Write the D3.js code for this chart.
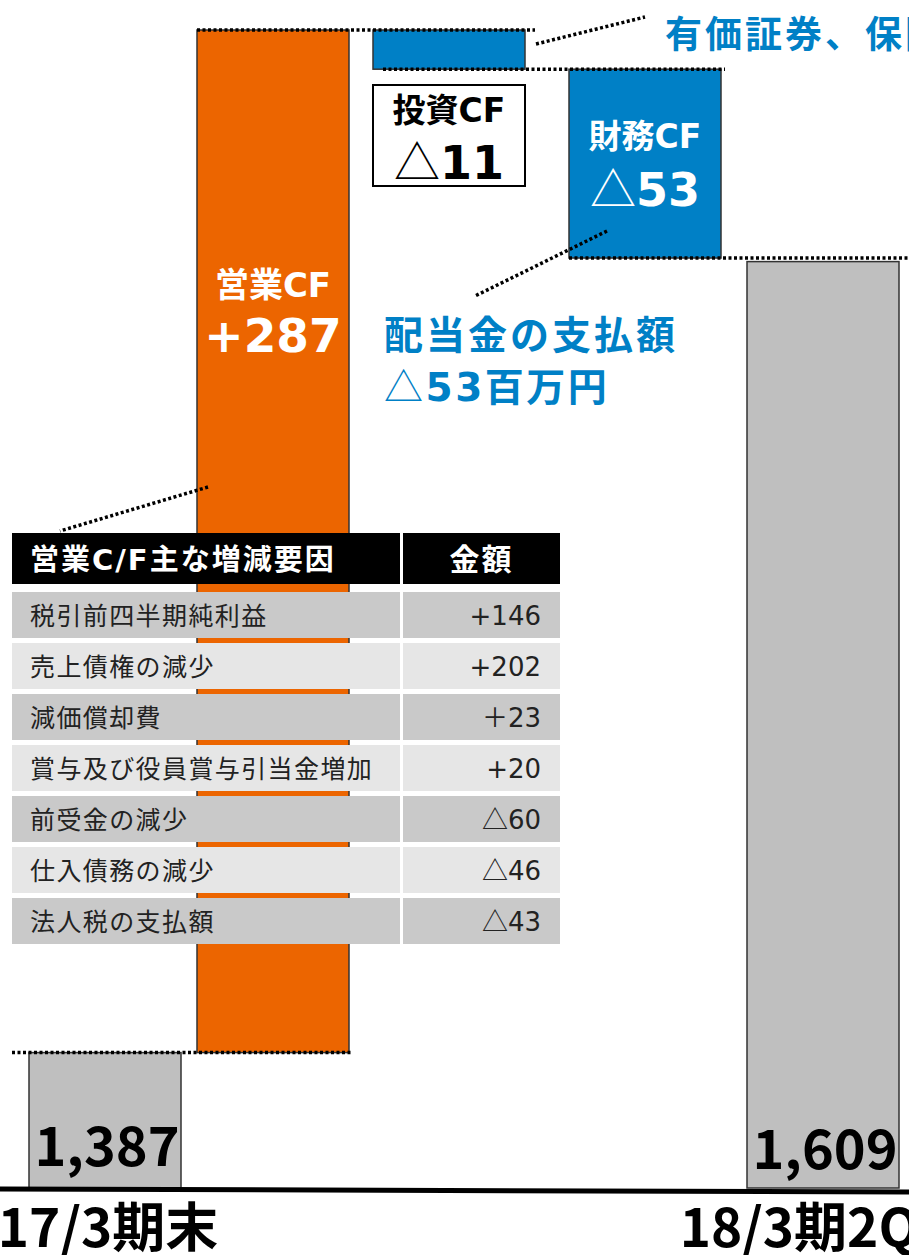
<!DOCTYPE html>
<html>
<head>
<meta charset="utf-8">
<script src="https://cdn.jsdelivr.net/npm/d3@7"></script>
<style>
body { margin: 0; background: #fff; }
text { font-family: "Noto Sans CJK JP", "Noto Sans", sans-serif; }
.lat { font-family: "DejaVu Sans", "Noto Sans CJK JP", sans-serif; }
</style>
</head>
<body>
<script>
var width = 909;
var height = 1255;

// waterfall data (百万円)
var categories = ["17/3期末", "営業CF", "投資CF", "財務CF", "18/3期2Q末"];
var startValue = 1387;
var endValue = 1609;
var flowValues = [287, -11, -53];
var flowLabels = ["+287", "△11", "△53"];
var axisBreak = 1349; // the value axis does not start at zero

// table data
var factorLabels = ["税引前四半期純利益", "売上債権の減少", "減価償却費", "賞与及び役員賞与引当金増加",
    "前受金の減少", "仕入債務の減少", "法人税の支払額"];
var factorValues = ["+146", "+202", "＋23", "+20", "△60", "△46", "△43"];

var orange = "#ec6500",
    blue = "#0080c6",
    gray = "#bfbfbf";
var cjk = "Noto Sans CJK JP";

var svg = d3.select("body").append("svg")
    .attr("width", width)
    .attr("height", height);

// bar slots are not evenly spaced in the original slide
var x = d3.scaleOrdinal().domain(categories).range([29, 197, 373, 569, 747]);
var bw = 152;
var y = d3.scaleLinear().domain([axisBreak, 1674]).range([1188, 30]);

// build bars
var bars = [];
bars.push({ cat: categories[0], lo: axisBreak, hi: startValue, fill: gray });
var run = startValue;
for (var i = 0; i < flowValues.length; i++) {
    var next = run + flowValues[i];
    bars.push({ cat: categories[i + 1], lo: Math.min(run, next), hi: Math.max(run, next),
        fill: i == 0 ? orange : blue, from: run, to: next });
    run = next;
}
bars.push({ cat: categories[4], lo: axisBreak, hi: endValue, fill: gray });

svg.selectAll(".bar")
    .data(bars)
    .enter()
    .append("rect")
    .attr("class", "bar")
    .attr("x", function (d) { return x(d.cat); })
    .attr("y", function (d) { return y(d.hi); })
    .attr("width", bw)
    .attr("height", function (d) { return y(d.lo) - y(d.hi); })
    .attr("fill", function (d) { return d.fill; })
    .attr("stroke", "#333")
    .attr("stroke-width", 1.5);

// dotted connectors
var connectors = [
    { v: startValue, x1: x(categories[0]) - 17, x2: x(categories[1]) + bw + 2 },
    { v: bars[1].to, x1: x(categories[1]), x2: x(categories[2]) + bw + 10 },
    { v: bars[2].to, x1: x(categories[2]) + 10, x2: x(categories[3]) + bw + 4 },
    { v: bars[3].to, x1: x(categories[3]), x2: width }
];
svg.selectAll(".conn")
    .data(connectors)
    .enter()
    .append("line")
    .attr("x1", function (d) { return d.x1; })
    .attr("x2", function (d) { return d.x2; })
    .attr("y1", function (d) { return y(d.v); })
    .attr("y2", function (d) { return y(d.v); })
    .attr("stroke", "#000")
    .attr("stroke-width", 3.5)
    .attr("stroke-dasharray", "3,2.5");

// baseline
svg.append("line")
    .attr("x1", 0).attr("x2", width)
    .attr("y1", y(axisBreak) + 1).attr("y2", y(axisBreak) + 4)
    .attr("stroke", "#000")
    .attr("stroke-width", 5);

// category labels
svg.selectAll(".cat")
    .data([categories[0], categories[4]])
    .enter()
    .append("text")
    .attr("x", function (d) { return x(d) + bw / 2 + 3; })
    .attr("y", 1247)
    .attr("text-anchor", "middle")
    .attr("font-size", 53)
    .attr("font-weight", 700)
    .text(function (d) { return d; });

// total values
svg.selectAll(".tot")
    .data([{ cat: categories[0], v: startValue }, { cat: categories[4], v: endValue }])
    .enter()
    .append("text")
    .attr("x", function (d) { return x(d.cat) + bw / 2 + 2; })
    .attr("y", function (d, i) { return y(axisBreak) - 22 + i * 3; })
    .attr("text-anchor", "middle")
    .attr("font-size", 54)
    .attr("font-weight", 700)
    .text(function (d) { return d3.format(",")(d.v); });

function tri(sel, label) {
    // thin triangle then the number
    if (label.charAt(0) == "△") {
        sel.append("tspan").attr("font-weight", 400).style("font-family", cjk).text("△");
        sel.append("tspan").text(label.slice(1));
    } else {
        sel.text(label);
    }
}

// operating CF label
var cxO = x(categories[1]) + bw / 2;
svg.append("text").attr("class", "lat").attr("x", cxO).attr("y", 297).attr("text-anchor", "middle")
    .attr("font-size", 34).attr("font-weight", 700).attr("fill", "#fff").text("営業CF");
svg.append("text").attr("class", "lat").attr("x", cxO).attr("y", 352).attr("text-anchor", "middle")
    .attr("font-size", 47).attr("font-weight", 700).attr("fill", "#fff").text(flowLabels[0]);

// investing CF label box
var xI = x(categories[2]);
svg.append("rect").attr("x", xI).attr("y", 85).attr("width", bw).attr("height", 101)
    .attr("fill", "#fff").attr("stroke", "#000").attr("stroke-width", 2);
svg.append("text").attr("class", "lat").attr("x", xI + bw / 2).attr("y", 122).attr("text-anchor", "middle")
    .attr("font-size", 33).attr("font-weight", 700).text("投資CF");
svg.append("text").attr("class", "lat").attr("x", xI + bw / 2).attr("y", 179).attr("text-anchor", "middle")
    .attr("font-size", 46).attr("font-weight", 700).call(tri, flowLabels[1]);

// financing CF label
var cxF = x(categories[3]) + bw / 2;
svg.append("text").attr("class", "lat").attr("x", cxF).attr("y", 148).attr("text-anchor", "middle")
    .attr("font-size", 33).attr("font-weight", 700).attr("fill", "#fff").text("財務CF");
svg.append("text").attr("class", "lat").attr("x", cxF).attr("y", 206).attr("text-anchor", "middle")
    .attr("font-size", 46).attr("font-weight", 700).attr("fill", "#fff").call(tri, flowLabels[2]);

// annotations
var leaders = [
    [[536, 44], [645, 17]],
    [[607, 231], [475, 296]],
    [[208, 487], [60, 531]]
];
svg.selectAll(".lead")
    .data(leaders)
    .enter()
    .append("line")
    .attr("x1", function (d) { return d[0][0]; })
    .attr("y1", function (d) { return d[0][1]; })
    .attr("x2", function (d) { return d[1][0]; })
    .attr("y2", function (d) { return d[1][1]; })
    .attr("stroke", "#000")
    .attr("stroke-width", 3.5)
    .attr("stroke-dasharray", "3,2.5");

svg.append("text").attr("x", 665).attr("y", 48)
    .attr("font-size", 37).attr("font-weight", 700).attr("fill", blue)
    .attr("letter-spacing", 3)
    .text("有価証券、保険積立金の取得");
svg.append("text").attr("x", 384).attr("y", 349)
    .attr("font-size", 39).attr("font-weight", 700).attr("fill", blue)
    .attr("letter-spacing", 3)
    .text("配当金の支払額");
svg.append("text").attr("class", "lat").attr("x", 384).attr("y", 401)
    .attr("font-size", 39).attr("font-weight", 700).attr("fill", blue)
    .attr("letter-spacing", 2.5)
    .call(tri, "△53百万円");

// table of main factors
var table = svg.append("g").attr("transform", "translate(12,533)");
var col1 = 388, col2 = 157, gap = 3;
var shade = function (d, i) { return i % 2 == 0 ? "#c9c9c9" : "#e6e6e6"; };

table.append("rect").attr("width", col1).attr("height", 51).attr("fill", "#000");
table.append("rect").attr("x", col1 + gap).attr("width", col2).attr("height", 51).attr("fill", "#000");
table.append("text").attr("class", "lat").attr("x", 18).attr("y", 37)
    .attr("font-size", 29).attr("font-weight", 700).attr("fill", "#fff")
    .attr("letter-spacing", 2)
    .text("営業C/F主な増減要因");
table.append("text").attr("x", col1 + gap + col2 / 2).attr("y", 37).attr("text-anchor", "middle")
    .attr("font-size", 30).attr("font-weight", 700).attr("fill", "#fff")
    .attr("letter-spacing", 2)
    .text("金額");

var rows = table.selectAll(".row")
    .data(factorLabels)
    .enter()
    .append("g")
    .attr("class", "row")
    .attr("transform", function (d, i) { return "translate(0," + (59 + i * 51) + ")"; });

rows.append("rect").attr("width", col1).attr("height", 46).attr("fill", shade);
rows.append("rect").attr("x", col1 + gap).attr("width", col2).attr("height", 46).attr("fill", shade);
rows.append("text").attr("x", 18).attr("y", 33)
    .attr("font-size", 25).attr("fill", "#222")
    .attr("letter-spacing", 1.4)
    .text(function (d) { return d; });
rows.append("text").attr("class", "lat").attr("x", col1 + gap + col2 - 19).attr("y", 33)
    .attr("text-anchor", "end")
    .attr("font-size", 26).attr("fill", "#222")
    .each(function (d, i) { d3.select(this).call(tri, factorValues[i]); });
</script>
</body>
</html>
